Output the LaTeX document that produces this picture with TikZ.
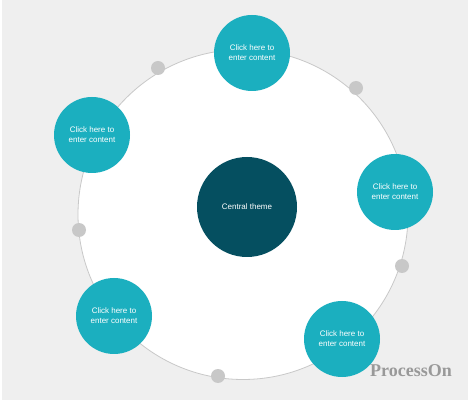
\documentclass[tikz,border=0pt]{standalone}
\usepackage{fontspec}
\setmainfont{Liberation Sans}
\newfontfamily\markfont{Liberation Serif}
\definecolor{bggray}{HTML}{EFEFEF}
\definecolor{ringgray}{HTML}{C8C8C8}
\definecolor{teal}{HTML}{1BAFBF}
\definecolor{deepteal}{HTML}{054F60}
\begin{document}
\begin{tikzpicture}[x=1pt,y=-1pt,
ring/.style={
% The shape:
circle,
draw=ringgray,
line width=0.8pt,
fill=white,
inner sep=0pt,
minimum size=330pt
},
item/.style={
circle,fill=teal,inner sep=0pt,minimum size=76pt,
text=white,align=center,font=\fontsize{8}{10}\selectfont
},
theme/.style={
circle,fill=deepteal,inner sep=0pt,minimum size=100pt,
text=white,font=\fontsize{8}{10}\selectfont
},
dot/.style={
circle,fill=ringgray,inner sep=0pt,minimum size=14pt
}
]
\useasboundingbox (0,0) rectangle (474,403);
\fill[bggray] (2,0) rectangle (468,400);
% Ring and its dots:
\node (ring) [ring] at (243,214.5) {};
\node (dot1) [dot] at (158,68) {};
\node (dot2) [dot] at (356,88) {};
\node (dot3) [dot] at (79,230) {};
\node (dot4) [dot] at (402,266) {};
\node (dot5) [dot] at (218,376) {};
% Centre and items:
\node (central) [theme] at (247,207) {Central theme};
\node (top) [item] at (252,53) {Click here to\\enter content};
\node (upleft) [item] at (92,135) {Click here to\\enter content};
\node (right) [item] at (395,192) {Click here to\\enter content};
\node (lowleft) [item] at (114,316) {Click here to\\enter content};
\node (lowright) [item] at (342,339) {Click here to\\enter content};
\node (mark) [text=gray!80,font=\markfont\bfseries\fontsize{18}{18}\selectfont] at (411,371) {ProcessOn};
\end{tikzpicture}
\end{document}
